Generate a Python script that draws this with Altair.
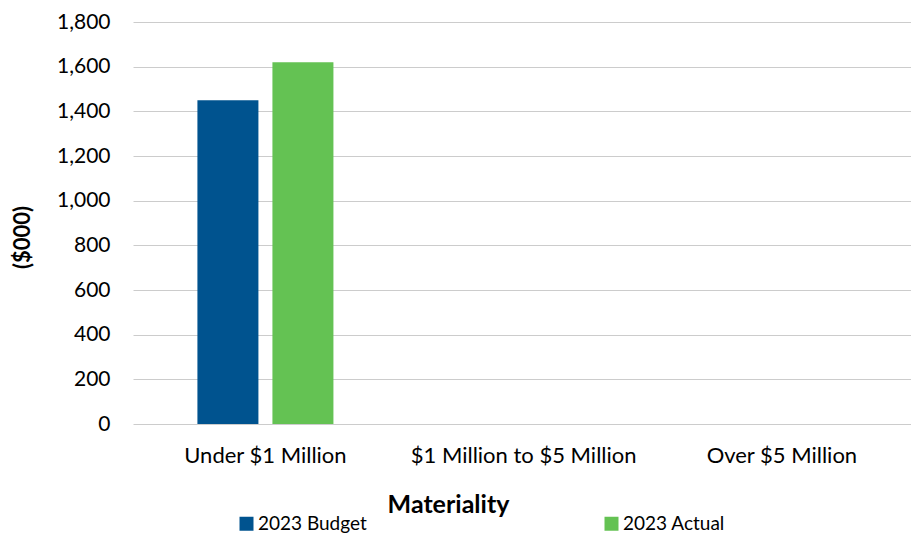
import altair as alt
import pandas as pd

categories = ["Under $1 Million", "$1 Million to $5 Million", "Over $5 Million"]
series_names = ["2023 Budget", "2023 Actual"]
budget = [1450, None, None]
actual = [1620, None, None]
y_ticks = [0, 200, 400, 600, 800, 1000, 1200, 1400, 1600, 1800]
colors = ["#00538F", "#64C253"]

rows = []
for i, c in enumerate(categories):
    rows.append({"Materiality": c, "Series": series_names[0], "Value": budget[i]})
    rows.append({"Materiality": c, "Series": series_names[1], "Value": actual[i]})
df = pd.DataFrame(rows)

FONT = "Lato"

chart = alt.Chart(df).mark_bar().encode(
    x=alt.X("Materiality:N", sort=categories,
            scale=alt.Scale(paddingInner=0, paddingOuter=0.0064, align=1),
            axis=alt.Axis(title="Materiality", labelAngle=0, domain=False, ticks=False,
                          labelPadding=21, labelFontSize=22, labelFont=FONT, labelColor="#000000",
                          labelLimit=400,
                          titleFont=FONT, titleFontSize=25, titleFontWeight="bold", titleColor="#000000",
                          titleX=315, titleY=80, titleBaseline="middle", titleAlign="center")),
    xOffset=alt.XOffset("Series:N", sort=series_names,
                        scale=alt.Scale(paddingInner=0.1867, paddingOuter=0.8147)),
    y=alt.Y("Value:Q", scale=alt.Scale(domain=[0, 1800], nice=False),
            axis=alt.Axis(title="($000)", values=y_ticks, format=",.0f", domain=False, ticks=False,
                          labelPadding=23, labelFontSize=21, labelFont=FONT, labelColor="#000000",
                          gridColor="#CCCCCC", gridWidth=1,
                          titleFont=FONT, titleFontSize=22, titleFontWeight="bold", titleColor="#000000",
                          titleX=-111, titleY=215, titleBaseline="middle", titleAlign="center")),
    color=alt.Color("Series:N", sort=series_names,
                    scale=alt.Scale(domain=series_names, range=colors),
                    legend=alt.Legend(title=None, orient="none", legendX=104, legendY=492,
                                      direction="horizontal", columns=2, columnPadding=235,
                                      symbolType="square", symbolSize=196, symbolStrokeWidth=0,
                                      labelFont=FONT, labelFontSize=19, labelColor="#000000",
                                      labelOffset=2, padding=0, labelLimit=300)),
).properties(
    width=778, height=402,
    autosize=alt.AutoSizeParams(type="none"),
    padding={"left": 125, "top": 14, "right": 0, "bottom": 111},
).configure_view(stroke=None)

chart.save("out.html", embed_options={"renderer": "svg", "actions": False})
